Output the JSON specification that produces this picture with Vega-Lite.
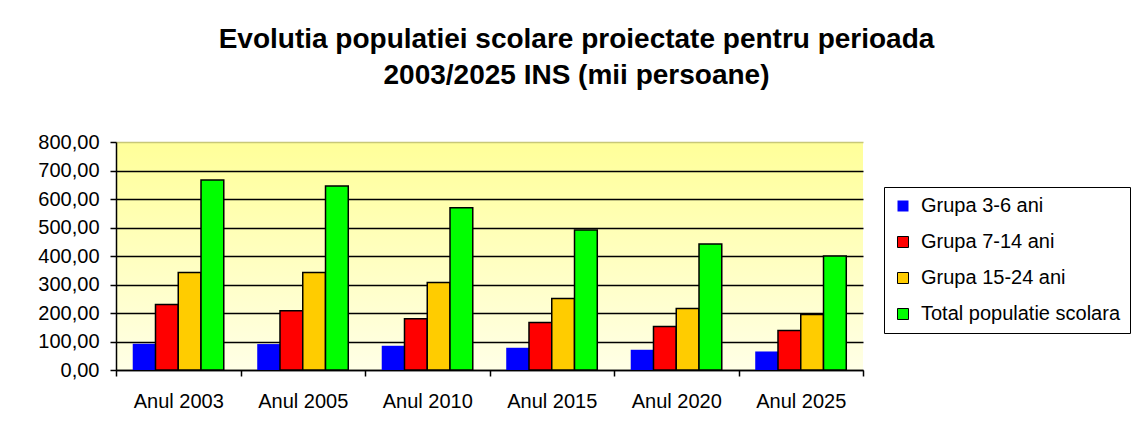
{
  "$schema": "https://vega.github.io/schema/vega-lite/v6.json",
  "width": 747,
  "height": 228,
  "autosize": "none",
  "padding": {"left": 116, "top": 142, "right": 269, "bottom": 68},
  "background": "white",
  "title": {
    "text": ["Evolutia populatiei scolare proiectate pentru perioada", "2003/2025 INS (mii persoane)"],
    "anchor": "middle",
    "dx": 87,
    "font": "Liberation Sans",
    "fontSize": 28,
    "fontWeight": "bold",
    "color": "black",
    "lineHeight": 36,
    "offset": 42
  },
  "data": {
    "values": [
      {"an": "Anul 2003", "grupa": "Grupa 3-6 ani", "valoare": 92},
      {"an": "Anul 2003", "grupa": "Grupa 7-14 ani", "valoare": 230},
      {"an": "Anul 2003", "grupa": "Grupa 15-24 ani", "valoare": 342},
      {"an": "Anul 2003", "grupa": "Total populatie scolara", "valoare": 667},
      {"an": "Anul 2005", "grupa": "Grupa 3-6 ani", "valoare": 91},
      {"an": "Anul 2005", "grupa": "Grupa 7-14 ani", "valoare": 208},
      {"an": "Anul 2005", "grupa": "Grupa 15-24 ani", "valoare": 342},
      {"an": "Anul 2005", "grupa": "Total populatie scolara", "valoare": 646},
      {"an": "Anul 2010", "grupa": "Grupa 3-6 ani", "valoare": 85},
      {"an": "Anul 2010", "grupa": "Grupa 7-14 ani", "valoare": 180},
      {"an": "Anul 2010", "grupa": "Grupa 15-24 ani", "valoare": 307},
      {"an": "Anul 2010", "grupa": "Total populatie scolara", "valoare": 569},
      {"an": "Anul 2015", "grupa": "Grupa 3-6 ani", "valoare": 78},
      {"an": "Anul 2015", "grupa": "Grupa 7-14 ani", "valoare": 167},
      {"an": "Anul 2015", "grupa": "Grupa 15-24 ani", "valoare": 251},
      {"an": "Anul 2015", "grupa": "Total populatie scolara", "valoare": 491},
      {"an": "Anul 2020", "grupa": "Grupa 3-6 ani", "valoare": 71},
      {"an": "Anul 2020", "grupa": "Grupa 7-14 ani", "valoare": 153},
      {"an": "Anul 2020", "grupa": "Grupa 15-24 ani", "valoare": 216},
      {"an": "Anul 2020", "grupa": "Total populatie scolara", "valoare": 442},
      {"an": "Anul 2025", "grupa": "Grupa 3-6 ani", "valoare": 65},
      {"an": "Anul 2025", "grupa": "Grupa 7-14 ani", "valoare": 139},
      {"an": "Anul 2025", "grupa": "Grupa 15-24 ani", "valoare": 195},
      {"an": "Anul 2025", "grupa": "Total populatie scolara", "valoare": 400}
    ]
  },
  "mark": {"type": "bar", "stroke": "black", "strokeWidth": 1.5},
  "encoding": {
    "x": {
      "field": "an",
      "type": "nominal",
      "sort": null,
      "scale": {"paddingInner": 0, "paddingOuter": 0},
      "axis": {
        "title": null,
        "labelAngle": 0,
        "tickBand": "extent",
        "tickSize": 6,
        "tickColor": "black",
        "tickWidth": 1.5,
        "domainColor": "black",
        "domainWidth": 1.5,
        "labelFont": "Liberation Sans",
        "labelFontSize": 20,
        "labelColor": "black",
        "labelPadding": 15,
        "grid": false
      }
    },
    "xOffset": {
      "field": "grupa",
      "type": "nominal",
      "sort": ["Grupa 3-6 ani", "Grupa 7-14 ani", "Grupa 15-24 ani", "Total populatie scolara"],
      "scale": {"paddingInner": 0, "paddingOuter": 0.735}
    },
    "y": {
      "field": "valoare",
      "type": "quantitative",
      "scale": {"domain": [0, 800], "nice": false},
      "axis": {
        "title": null,
        "values": [0, 100, 200, 300, 400, 500, 600, 700, 800],
        "labelExpr": "replace(format(datum.value, '.2f'), '.', ',')",
        "tickSize": 6,
        "tickColor": "black",
        "tickWidth": 1.5,
        "domainColor": "black",
        "domainWidth": 1.5,
        "labelFont": "Liberation Sans",
        "labelFontSize": 20,
        "labelColor": "black",
        "labelPadding": 11,
        "grid": true,
        "gridColor": {"condition": {"test": "datum.value === 800", "value": "#c8c878"}, "value": "black"},
        "gridWidth": 1.5
      }
    },
    "color": {
      "field": "grupa",
      "type": "nominal",
      "sort": ["Grupa 3-6 ani", "Grupa 7-14 ani", "Grupa 15-24 ani", "Total populatie scolara"],
      "scale": {
        "domain": ["Grupa 3-6 ani", "Grupa 7-14 ani", "Grupa 15-24 ani", "Total populatie scolara"],
        "range": ["#0000FF", "#FF0000", "#FFCC00", "#00FF00"]
      },
      "legend": {
        "title": null,
        "orient": "none",
        "legendX": 768,
        "legendY": 45,
        "strokeColor": "black",
        "fillColor": "white",
        "padding": 9,
        "symbolType": "square",
        "symbolSize": 121,
        "symbolStrokeColor": "black",
        "symbolStrokeWidth": 1,
        "labelFont": "Liberation Sans",
        "labelFontSize": 20,
        "labelColor": "black",
        "labelOffset": 8,
        "rowPadding": 16,
        "labelLimit": 400,
        "encode": {
          "symbols": {"update": {"strokeWidth": {"signal": "datum.value === 'Grupa 3-6 ani' ? 0 : 1"}}}
        }
      }
    },
    "strokeWidth": {
      "condition": {"test": "datum.grupa === 'Grupa 3-6 ani'", "value": 0},
      "value": 1.5
    }
  },
  "config": {
    "view": {
      "stroke": null,
      "fill": {
        "gradient": "linear",
        "x1": 0, "y1": 0, "x2": 0, "y2": 1,
        "stops": [
          {"offset": 0, "color": "#FFFF99"},
          {"offset": 1, "color": "#FFFFE6"}
        ]
      }
    }
  }
}
